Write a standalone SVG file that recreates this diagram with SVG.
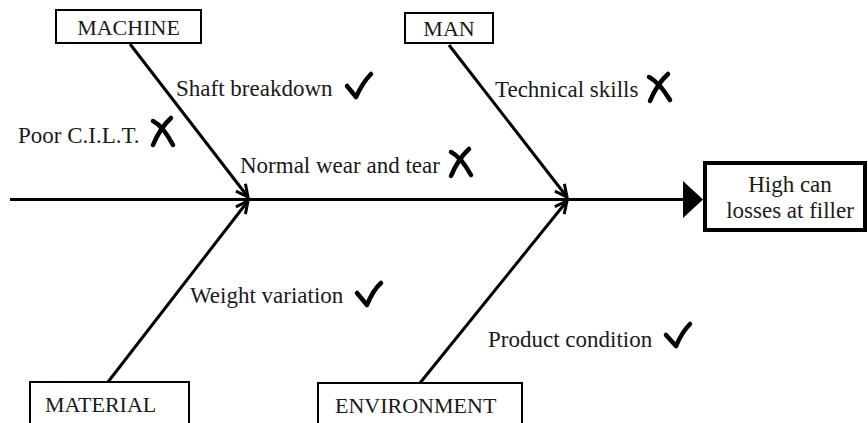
<svg xmlns="http://www.w3.org/2000/svg" width="868" height="423" viewBox="0 0 868 423">
<style>
.box{fill:#fff;stroke:#000;stroke-width:2}
.lbl{font-family:"Liberation Serif","Times New Roman",serif;font-size:23px;fill:#1a1a1a}
.cap{font-size:22px}
.bone{stroke:#000;stroke-width:3;fill:none}
.mark{stroke:#000;stroke-width:4.5;fill:none;stroke-linecap:round;stroke-linejoin:round}
</style>
<defs>
<marker id="ah" viewBox="0 0 10 10" refX="9" refY="5" markerWidth="5" markerHeight="5" orient="auto" markerUnits="strokeWidth">
<path d="M1,1 L9,5 L1,9" fill="none" stroke="#000" stroke-width="2"/>
</marker>
</defs>
<rect width="868" height="423" fill="#fff"/>
<g id="connectors">
<line class="bone" x1="10" y1="199.5" x2="684" y2="199.5" stroke-width="3.5"/>
<polygon points="683,181 703,199.5 683,218" fill="#000"/>
<line class="bone" x1="130" y1="44" x2="248" y2="197" marker-end="url(#ah)"/>
<line class="bone" x1="108" y1="382" x2="248" y2="201" marker-end="url(#ah)"/>
<line class="bone" x1="449" y1="45" x2="567" y2="197" marker-end="url(#ah)"/>
<line class="bone" x1="420" y1="383" x2="567" y2="201" marker-end="url(#ah)"/>
</g>
<g id="machine">
<rect class="box" x="56" y="10" width="145" height="33"/>
<text class="lbl cap" x="128.5" y="35" text-anchor="middle">MACHINE</text>
</g>
<g id="man">
<rect class="box" x="405" y="13" width="88" height="30"/>
<text class="lbl cap" x="449" y="36" text-anchor="middle">MAN</text>
</g>
<g id="material">
<rect class="box" x="30" y="382" width="159" height="50"/>
<text class="lbl cap" x="45" y="412">MATERIAL</text>
</g>
<g id="environment">
<rect class="box" x="318" y="383" width="204" height="50"/>
<text class="lbl cap" x="335" y="413">ENVIRONMENT</text>
</g>
<g id="effect">
<rect x="705" y="163" width="160" height="67" fill="#fff" stroke="#000" stroke-width="4"/>
<text class="lbl" x="790" y="192" text-anchor="middle">High can</text>
<text class="lbl" x="790" y="218" text-anchor="middle">losses at filler</text>
</g>
<g id="causes">
<text class="lbl" x="176" y="96">Shaft breakdown</text>
<path class="mark" d="M347,86 L356,97 Q363,82 371,74"/>
<text class="lbl" x="18" y="143">Poor C.I.L.T.</text>
<path class="mark" d="M153,121 Q163,126 173,145 M171,118 Q160,128 153,145"/>
<text class="lbl" x="240" y="173">Normal wear and tear</text>
<path class="mark" d="M451,152 Q461,157 471,175 M469,149 Q458,159 451,176"/>
<text class="lbl" x="495" y="97">Technical skills</text>
<path class="mark" d="M649,77 Q659,82 670,100 M668,74 Q657,84 650,101"/>
<text class="lbl" x="190" y="303">Weight variation</text>
<path class="mark" d="M357,293 L367,305 Q373,290 381,283"/>
<text class="lbl" x="488" y="347">Product condition</text>
<path class="mark" d="M666,335 L676,346 Q682,332 690,324"/>
</g>
</svg>
